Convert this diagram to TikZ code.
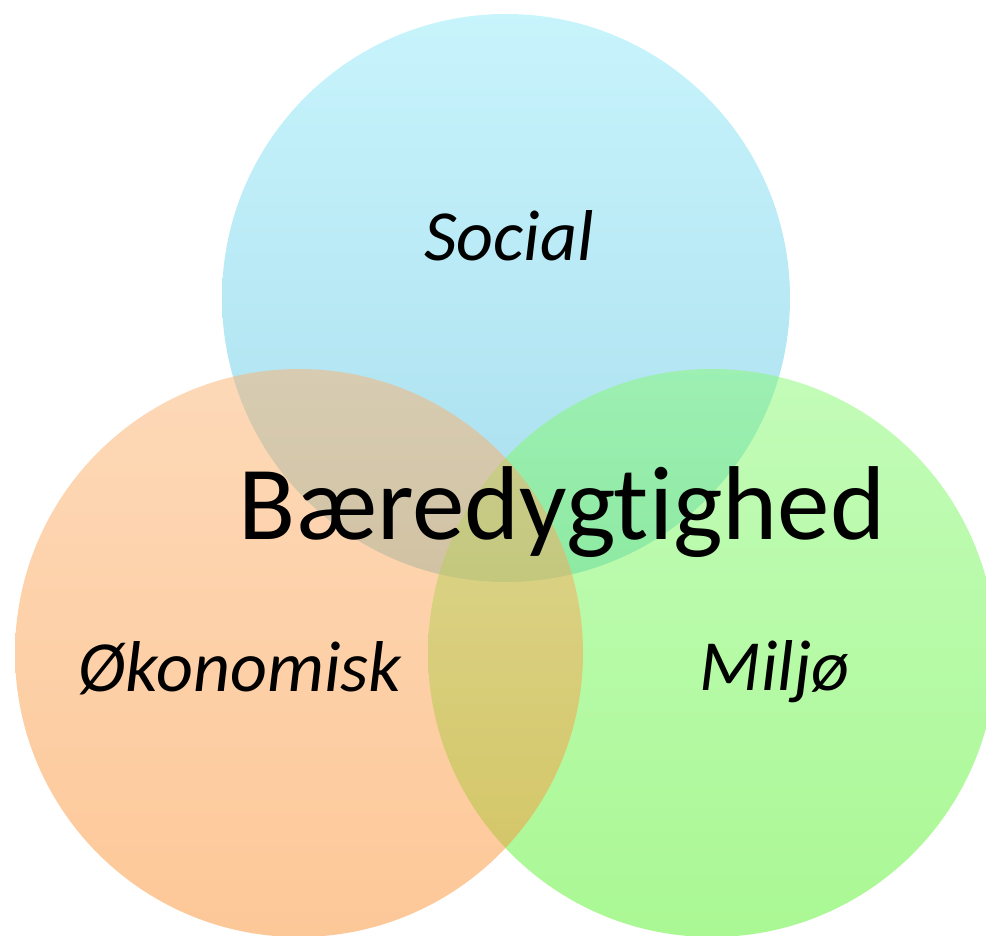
\documentclass[tikz,border=0pt]{standalone}
\usepackage{fontspec}
\setmainfont{Carlito}[Ligatures=NoCommon]
\definecolor{blueTop}{RGB}{145,233,249}
\definecolor{blueBot}{RGB}{81,189,221}
\definecolor{orTop}{RGB}{251,179,113}
\definecolor{orBot}{RGB}{251,145,49}
\definecolor{grTop}{RGB}{135,249,115}
\definecolor{grBot}{RGB}{85,241,41}
\begin{document}
\begin{tikzpicture}[x=1pt,y=-1pt,
  ring/.style={fill opacity=0.5},
  lbl/.style={inner sep=0pt,anchor=base,font=\fontsize{72}{84}\selectfont\itshape},
  title/.style={inner sep=0pt,anchor=base,font=\fontsize{105}{120}\selectfont}]
\useasboundingbox (0,0) rectangle (986,936);
\begin{scope}
\clip (0,0) rectangle (986,936);
\shade[ring,top color=blueTop,bottom color=blueBot] (506,298) circle (284);
\shade[ring,top color=grTop,bottom color=grBot] (712,653) circle (284);
\shade[ring,top color=orTop,bottom color=orBot] (299,653) circle (284);
\end{scope}
\node[lbl] (social) at (509,261) {Social};
\node[lbl] (okonomi) at (240,691) {Økonomisk};
\node[lbl] (miljo) at (774.5,690) {Miljø};
\node[title] (baer) at (562,539) {Bæredygtighed};
\end{tikzpicture}
\end{document}
